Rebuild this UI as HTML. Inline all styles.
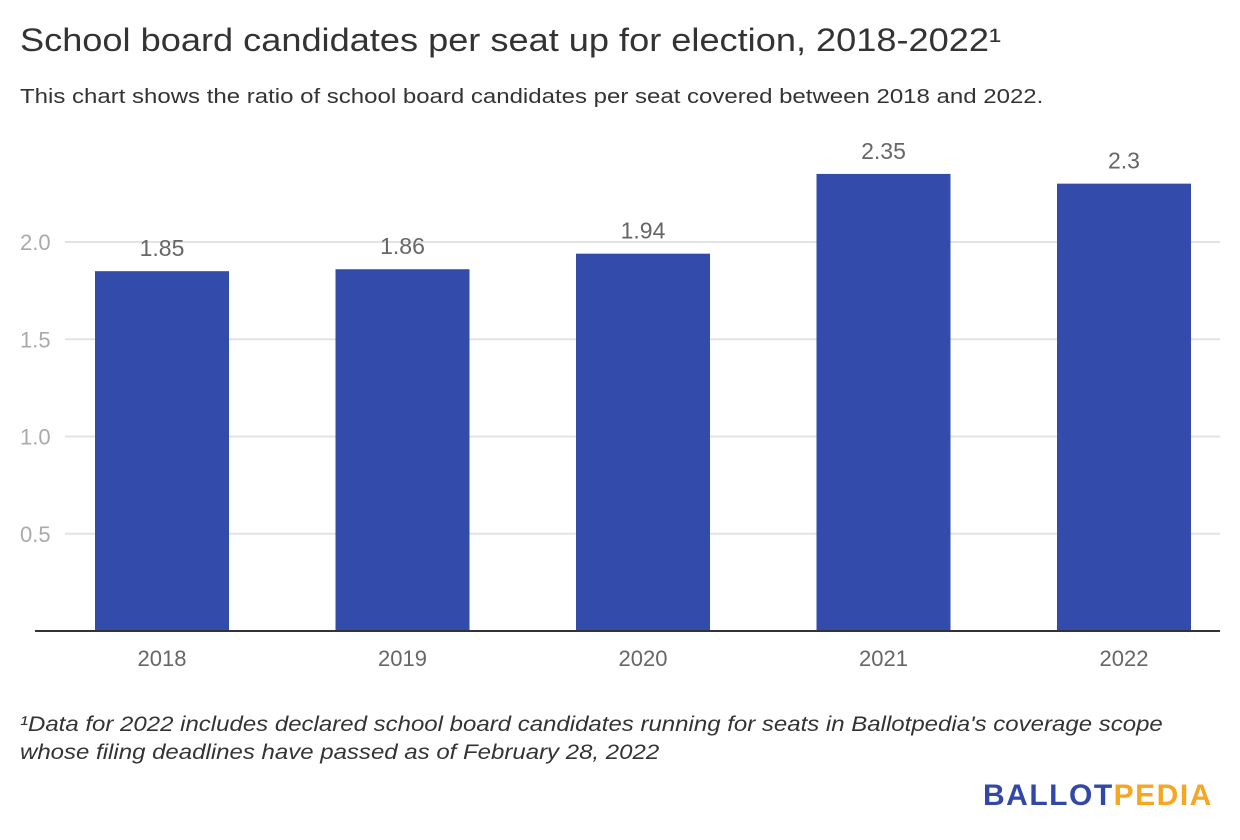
<!DOCTYPE html>
<html><head><meta charset="utf-8"><style>
body{margin:0;background:#fff;width:1240px;height:840px;overflow:hidden;font-family:"Liberation Sans",sans-serif;}
#title{position:absolute;left:20px;top:22px;font-size:32px;color:#333;margin:0;font-weight:normal;white-space:nowrap;transform:scaleX(1.13);transform-origin:left top;}
#sub{position:absolute;left:20px;top:86px;font-size:20px;color:#333;white-space:nowrap;transform:scaleX(1.2);transform-origin:left top;}
#note{position:absolute;left:20px;top:711px;font-size:21px;font-style:italic;color:#333;line-height:28px;white-space:nowrap;transform:scaleX(1.143);transform-origin:left top;}
#logo{position:absolute;left:983px;top:779px;font-size:30px;font-weight:bold;letter-spacing:1.5px;white-space:nowrap;}
svg{position:absolute;left:0;top:0;}
</style></head><body>
<h1 id="title">School board candidates per seat up for election, 2018-2022¹</h1>
<div id="sub">This chart shows the ratio of school board candidates per seat covered between 2018 and 2022.</div>
<svg id="chart" width="1240" height="700"></svg>
<div id="note">¹Data for 2022 includes declared school board candidates running for seats in Ballotpedia's coverage scope<br>whose filing deadlines have passed as of February 28, 2022</div>
<div id="logo"><span style="color:#3148a8">BALLOT</span><span style="color:#f5a623">PEDIA</span></div>
<script>
const categories=["2018","2019","2020","2021","2022"];
const values=[1.85,1.86,1.94,2.35,2.3];
const labels=["1.85","1.86","1.94","2.35","2.3"];
const ticks=[0.5,1.0,1.5,2.0];
const tickLabels=["0.5","1.0","1.5","2.0"];
const svg=document.getElementById('chart');
const NS='http://www.w3.org/2000/svg';
const y=v=>631-v*194.5;
const xc=i=>162+i*240.5;
function mk(t,a){const e=document.createElementNS(NS,t);for(const k in a)e.setAttribute(k,a[k]);svg.appendChild(e);return e;}
ticks.forEach((t,i)=>{
 const l=mk('line',{x1:65,x2:1220,y1:y(t),y2:y(t),stroke:'#e3e3e3','stroke-width':2});
 
 
 const tx=mk('text',{x:20,y:y(t)+8,'font-size':22,fill:'#aaa','font-family':'Liberation Sans, sans-serif'});
 tx.textContent=tickLabels[i];
 
 
});
categories.forEach((c,i)=>{
 const r=mk('rect',{x:xc(i)-67,y:y(values[i]),width:134,height:y(0)-y(values[i]),fill:'#334baa'});
 
 
 const v=mk('text',{x:xc(i),y:y(values[i])-15,'font-size':23,fill:'#666','text-anchor':'middle','font-family':'Liberation Sans, sans-serif'});
 v.textContent=labels[i];
 
 
 const t=mk('text',{x:xc(i),y:666,'font-size':22,fill:'#666','text-anchor':'middle','font-family':'Liberation Sans, sans-serif'});
 t.textContent=c;
 
 
});
const ax=mk('line',{x1:35,x2:1220,y1:631,y2:631,stroke:'#333','stroke-width':2});


</script>
</body></html>
